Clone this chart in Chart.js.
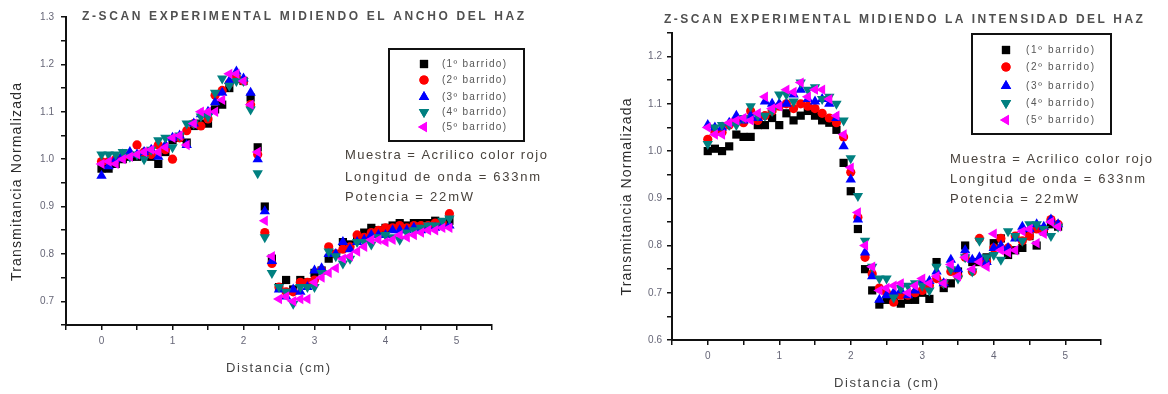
<!DOCTYPE html>
<html>
<head>
<meta charset="utf-8">
<script src="https://cdn.jsdelivr.net/npm/chart.js@4.4.1/dist/chart.umd.min.js"></script>
<style>
html,body{margin:0;padding:0;background:#fff;}
#wrap{position:relative;width:1168px;height:394px;overflow:hidden;}
canvas{position:absolute;left:0;top:0;}
</style>
</head>
<body>
<div id="wrap">
<canvas id="c1" width="1168" height="394"></canvas>
<canvas id="c2" width="1168" height="394"></canvas>
</div>
<script>
// ---- data ----
const DIST = [0,0.1,0.2,0.3,0.4,0.5,0.6,0.7,0.8,0.9,
  1.0,1.1,1.2,1.3,1.4,1.5,1.6,1.7,1.8,1.9,
  2.0,2.1,2.2,2.3,2.4,2.5,2.6,2.7,2.8,2.9,
  3.0,3.1,3.2,3.3,3.4,3.5,3.6,3.7,3.8,3.9,
  4.0,4.1,4.2,4.3,4.4,4.5,4.6,4.7,4.8,4.9];

const SERIES_NAMES = ['(1º barrido)','(2º barrido)','(3º barrido)','(4º barrido)','(5º barrido)'];

// Left chart: ancho del haz
const ANCHO_1 = [0.98,0.98,0.99,1.0,1.005,1.005,1.01,1.005,0.99,1.015,
  1.04,1.045,1.035,1.07,1.075,1.075,1.105,1.115,1.15,1.17,
  1.165,1.13,1.025,0.90,0.79,0.73,0.745,0.725,0.745,0.74,
  0.76,0.765,0.79,0.80,0.825,0.82,0.835,0.845,0.855,0.85,
  0.855,0.86,0.865,0.86,0.865,0.865,0.865,0.87,0.865,0.87];
const ANCHO_2 = [0.995,0.995,1.0,1.005,1.01,1.03,1.015,1.01,1.03,1.02,
  1.0,1.045,1.06,1.075,1.07,1.085,1.135,1.145,1.16,1.17,
  1.165,1.115,1.01,0.845,0.78,0.73,0.72,0.72,0.74,0.74,
  0.745,0.765,0.815,0.80,0.81,0.815,0.84,0.835,0.845,0.85,
  0.855,0.855,0.86,0.855,0.86,0.86,0.86,0.865,0.865,0.885];
const ANCHO_3 = [0.965,0.985,1.0,1.01,1.015,1.01,1.015,1.02,1.005,1.03,
  1.045,1.05,1.03,1.075,1.095,1.10,1.12,1.14,1.165,1.185,
  1.17,1.14,1.0,0.89,0.785,0.725,0.71,0.725,0.72,0.73,
  0.765,0.77,0.80,0.80,0.825,0.81,0.825,0.83,0.84,0.84,
  0.84,0.85,0.85,0.85,0.855,0.85,0.855,0.855,0.86,0.86];
const ANCHO_4 = [1.01,1.01,1.01,1.015,1.005,1.01,1.0,1.02,1.04,1.045,
  1.025,1.05,1.075,1.075,1.09,1.09,1.14,1.17,1.155,1.165,
  1.165,1.105,0.97,0.835,0.76,0.73,0.72,0.695,0.73,0.73,
  0.73,0.76,0.805,0.795,0.78,0.79,0.825,0.825,0.82,0.835,
  0.84,0.835,0.83,0.845,0.85,0.855,0.86,0.86,0.87,0.875];
const ANCHO_5 = [0.99,0.995,0.99,1.0,1.005,1.01,1.015,1.02,1.015,1.025,
  1.045,1.05,1.03,1.075,1.10,1.10,1.10,1.125,1.18,1.18,
  1.165,1.115,1.015,0.87,0.795,0.705,0.71,0.70,0.705,0.705,
  0.74,0.75,0.76,0.77,0.79,0.795,0.805,0.815,0.83,0.83,
  0.825,0.83,0.84,0.835,0.84,0.845,0.85,0.85,0.855,0.855];

// Right chart: intensidad del haz
const INTEN_1 = [1.0,1.005,1.0,1.01,1.035,1.03,1.03,1.055,1.055,1.07,
  1.055,1.08,1.065,1.075,1.085,1.075,1.065,1.06,1.045,0.975,
  0.915,0.835,0.75,0.705,0.675,0.685,0.69,0.677,0.685,0.685,
  0.70,0.687,0.765,0.71,0.72,0.745,0.80,0.765,0.765,0.775,
  0.805,0.815,0.78,0.79,0.795,0.82,0.80,0.83,0.845,0.84];
const INTEN_2 = [1.025,1.04,1.04,1.055,1.065,1.06,1.085,1.065,1.075,1.085,
  1.095,1.10,1.09,1.10,1.095,1.09,1.08,1.07,1.06,1.03,
  0.955,0.86,0.775,0.74,0.71,0.70,0.68,0.695,0.695,0.70,
  0.705,0.715,0.73,0.72,0.745,0.735,0.775,0.745,0.815,0.765,
  0.795,0.815,0.795,0.82,0.81,0.82,0.835,0.835,0.855,0.845];
const INTEN_3 = [1.055,1.05,1.05,1.06,1.075,1.065,1.075,1.07,1.105,1.10,
  1.10,1.10,1.12,1.13,1.11,1.105,1.11,1.10,1.07,1.01,
  0.94,0.855,0.785,0.735,0.685,0.695,0.70,0.705,0.695,0.705,
  0.725,0.725,0.745,0.72,0.77,0.75,0.79,0.77,0.775,0.765,
  0.795,0.80,0.795,0.815,0.84,0.835,0.845,0.84,0.855,0.845];
const INTEN_4 = [1.015,1.05,1.055,1.055,1.055,1.07,1.095,1.075,1.075,1.085,
  1.12,1.12,1.105,1.145,1.13,1.135,1.11,1.115,1.10,1.065,
  0.985,0.905,0.81,0.755,0.73,0.73,0.69,0.71,0.715,0.72,
  0.715,0.705,0.755,0.72,0.75,0.73,0.775,0.745,0.81,0.775,
  0.78,0.77,0.83,0.82,0.81,0.845,0.845,0.835,0.82,0.84];
const INTEN_5 = [1.05,1.035,1.035,1.06,1.065,1.07,1.065,1.08,1.115,1.09,
  1.095,1.13,1.125,1.145,1.115,1.13,1.13,1.11,1.075,1.035,
  0.965,0.87,0.80,0.755,0.705,0.71,0.715,0.72,0.70,0.715,
  0.73,0.72,0.735,0.72,0.76,0.735,0.775,0.75,0.765,0.755,
  0.825,0.79,0.785,0.79,0.83,0.835,0.805,0.825,0.85,0.84];

const X_TICK_LABELS = ['0','1','2','3','4','5'];
const LEFT_Y_TICK_LABELS = ['0.7','0.8','0.9','1.0','1.1','1.2','1.3'];
const RIGHT_Y_TICK_LABELS = ['0.6','0.7','0.8','0.9','1.0','1.1','1.2'];

const TITLE_LEFT = 'Z-SCAN EXPERIMENTAL MIDIENDO EL ANCHO DEL HAZ';
const TITLE_RIGHT = 'Z-SCAN EXPERIMENTAL MIDIENDO LA INTENSIDAD DEL HAZ';
const Y_TITLE = 'Transmitancia Normalizada';
const X_TITLE = 'Distancia (cm)';
const NOTES = ['Muestra = Acrilico color rojo','Longitud de onda = 633nm','Potencia = 22mW'];

// ---- styles ----
const STYLES = [
  {color:'#000000', pointStyle:'rect', rotation:0, radius:5.8},
  {color:'#ff0000', pointStyle:'circle', rotation:0, radius:4.6},
  {color:'#0000ff', pointStyle:'triangle', rotation:0, radius:6},
  {color:'#008080', pointStyle:'triangle', rotation:180, radius:6},
  {color:'#ff00ff', pointStyle:'triangle', rotation:270, radius:6}
];

function makeDatasets(seriesList){
  return seriesList.map((vals,i)=>({
    label: SERIES_NAMES[i],
    data: DIST.map((x,j)=>({x:x, y:vals[j]})),
    pointStyle: STYLES[i].pointStyle,
    rotation: STYLES[i].rotation,
    pointRadius: STYLES[i].radius,
    pointBackgroundColor: STYLES[i].color,
    pointBorderColor: STYLES[i].color,
    pointBorderWidth: 0,
    showLine: false,
    order: 5 - i
  }));
}

function fitText(ctx, text, x, y, font, color, width, align){
  ctx.save();
  ctx.font = font;
  ctx.fillStyle = color;
  ctx.textBaseline = 'middle';
  ctx.textAlign = 'left';
  ctx.letterSpacing = '0px';
  const w = ctx.measureText(text).width;
  const n = Array.from(text).length;
  const sp = n > 1 ? (width - w) / (n - 1) : 0;
  ctx.letterSpacing = sp.toFixed(2) + 'px';
  const sx = align === 'center' ? x - width / 2 : x;
  ctx.fillText(text, sx, y);
  ctx.restore();
}

const FAM = '"Liberation Sans", Arial, sans-serif';

function decorPlugin(cfg){
  return {
    id: 'decor',
    afterDraw(chart){
      const ctx = chart.ctx;
      // chart title
      fitText(ctx, cfg.title, cfg.titleX, cfg.titleY, 'bold 12px ' + FAM, '#505050', cfg.titleW, 'left');
      // y title
      ctx.save();
      ctx.translate(cfg.yTitleX, cfg.yTitleY);
      ctx.rotate(-Math.PI/2);
      fitText(ctx, Y_TITLE, 0, 0, '14px ' + FAM, '#2a2a2a', cfg.yTitleW, 'center');
      ctx.restore();
      // x title
      fitText(ctx, X_TITLE, cfg.xTitleX, cfg.xTitleY, '13px ' + FAM, '#444', 104, 'center');
      // legend box
      const lb = cfg.legend;
      ctx.save();
      ctx.strokeStyle = '#111';
      ctx.lineWidth = 2;
      ctx.strokeRect(lb.x, lb.y, lb.w, lb.h);
      ctx.restore();
      chart.data.datasets.forEach((ds,i)=>{
        const yy = lb.rows[i];
        ctx.save();
        ctx.fillStyle = ds.pointBackgroundColor;
        ctx.strokeStyle = ds.pointBorderColor;
        Chart.helpers.drawPoint(ctx, {pointStyle: ds.pointStyle, rotation: ds.rotation, radius: ds.pointRadius, borderWidth: 0}, lb.mx, yy);
        ctx.fill();
        ctx.restore();
        fitText(ctx, ds.label, lb.tx, yy, '10px ' + FAM, '#555', lb.tw, 'left');
      });
      // notes
      const widths = [202, 195, 128];
      NOTES.forEach((t,i)=>{
        fitText(ctx, t, cfg.noteX, cfg.noteY[i], '13px ' + FAM, '#48423c', widths[i], 'left');
      });
    }
  };
}

function tickCb(labels, step){
  return function(v){
    const r = Math.round(v / step);
    if (Math.abs(v / step - r) > 1e-6) return '';
    const s = step === 1 ? String(r) : (r * step).toFixed(1);
    return labels.includes(s) ? s : '';
  };
}

function makeChart(id, seriesList, geo, yMin, yMax, yLabels, cfg){
  const ctx = document.getElementById(id).getContext('2d');
  return new Chart(ctx, {
    type: 'scatter',
    data: { datasets: makeDatasets(seriesList) },
    options: {
      responsive: false,
      animation: false,
      devicePixelRatio: 1,
      layout: { padding: { left: geo.left - geo.yw, top: geo.top, right: 1168 - geo.right, bottom: 0 } },
      plugins: { legend: {display:false}, tooltip: {enabled:false}, title:{display:false} },
      scales: {
        x: {
          type: 'linear', min: -0.5, max: 5.5,
          afterFit(s){ s.height = 394 - geo.bottom; },
          ticks: { stepSize: 0.5, autoSkip: false, maxRotation: 0, padding: 5,
                   color: '#667', font: {size: 10, family: FAM},
                   callback: tickCb(X_TICK_LABELS, 1) },
          grid: { drawOnChartArea: false, drawTicks: true, tickLength: 5, color: '#111', lineWidth: 1.5 },
          border: { display: true, color: '#111', width: 2 }
        },
        y: {
          type: 'linear', min: yMin, max: yMax,
          afterFit(s){ s.width = geo.yw; },
          ticks: { stepSize: 0.05, autoSkip: false, padding: geo.ypad,
                   color: '#667', font: {size: 10, family: FAM},
                   callback: tickCb(yLabels, 0.1) },
          grid: { drawOnChartArea: false, drawTicks: true, tickLength: 5, color: '#111', lineWidth: 1.5 },
          border: { display: true, color: '#111', width: 2 }
        }
      }
    },
    plugins: [decorPlugin(cfg)]
  });
}

makeChart('c1', [ANCHO_1, ANCHO_2, ANCHO_3, ANCHO_4, ANCHO_5],
  {left: 66, right: 492, top: 17, bottom: 325, yw: 60, ypad: 7},
  0.65, 1.3, LEFT_Y_TICK_LABELS,
  {title: TITLE_LEFT, titleX: 82, titleY: 17, titleW: 442,
   yTitleX: 17, yTitleY: 182, yTitleW: 198,
   xTitleX: 278, xTitleY: 368,
   legend: {x: 389, y: 49, w: 135, h: 92, mx: 424, tx: 442, tw: 64, rows: [64, 80, 97, 112, 127]},
   noteX: 345, noteY: [155, 177, 197]});

makeChart('c2', [INTEN_1, INTEN_2, INTEN_3, INTEN_4, INTEN_5],
  {left: 672, right: 1101, top: 33, bottom: 340, yw: 60, ypad: 5},
  0.6, 1.25, RIGHT_Y_TICK_LABELS,
  {title: TITLE_RIGHT, titleX: 664, titleY: 20, titleW: 479,
   yTitleX: 627, yTitleY: 197, yTitleW: 197,
   xTitleX: 886, xTitleY: 383,
   legend: {x: 972, y: 34, w: 139, h: 100, mx: 1006, tx: 1026, tw: 68, rows: [50, 67, 86, 103, 120]},
   noteX: 950, noteY: [159, 179, 199]});
</script>
</body>
</html>
